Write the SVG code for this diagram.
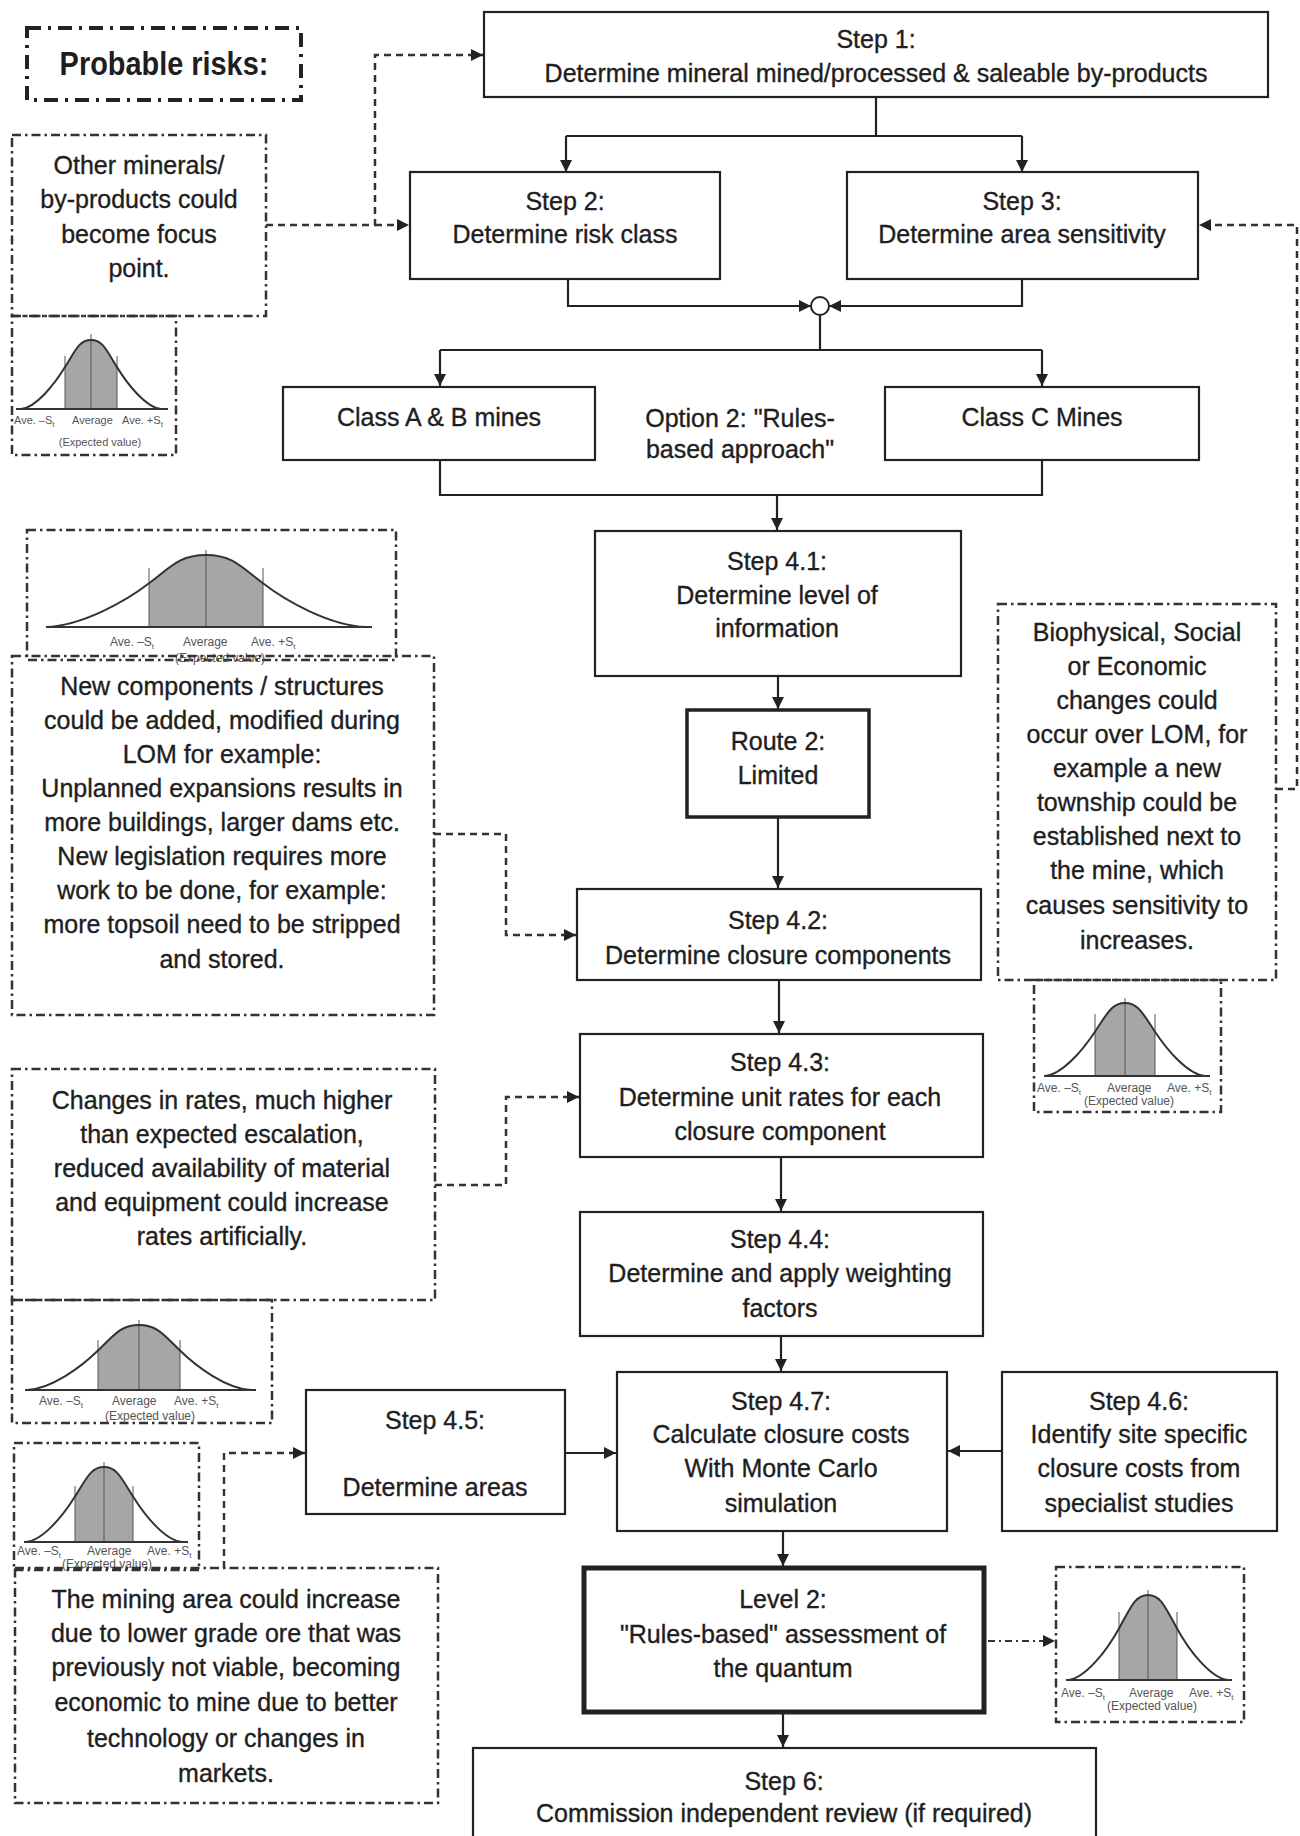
<svg xmlns="http://www.w3.org/2000/svg" width="1300" height="1836" viewBox="0 0 1300 1836">
<defs>
<marker id="ah" viewBox="0 0 10 10" refX="10" refY="5" markerWidth="12" markerHeight="12" markerUnits="userSpaceOnUse" orient="auto"><path d="M0,0 L10,5 L0,10 z" fill="#222"/></marker>
<style>
.t{font-family:"Liberation Sans",Arial,sans-serif;font-size:25px;fill:#1e1e1e;stroke:#1e1e1e;stroke-width:0.35;text-anchor:middle}
.lbl{font-family:"Liberation Sans",Arial,sans-serif;font-size:12px;fill:#555}
.sm{font-size:11px}
.ev{text-anchor:middle}
.sub{font-size:8px}
.box{fill:#fff;stroke:#222;stroke-width:2.2}
.risk{fill:none;stroke:#333;stroke-width:2.5;stroke-dasharray:9 4 2.5 4}
.dash{fill:none;stroke:#333;stroke-width:2.5;stroke-dasharray:7 5}
.conn{fill:none;stroke:#222;stroke-width:2.2}
.bell{fill:none;stroke:#333;stroke-width:2}
.thin{fill:none;stroke:#555;stroke-width:1}
.shade{fill:#a6a6a6}
</style>
</defs>
<rect width="1300" height="1836" fill="#fff"/>

<g id="connectors">
<path class="conn" d="M876,97 V136 M566,136 H1022"/>
<path class="conn" d="M566,136 V172" marker-end="url(#ah)"/>
<path class="conn" d="M1022,136 V172" marker-end="url(#ah)"/>
<path class="conn" d="M568,279 V306 H811" marker-end="url(#ah)"/>
<path class="conn" d="M1022,279 V306 H829" marker-end="url(#ah)"/>
<circle cx="820" cy="306" r="9" fill="#fff" stroke="#222" stroke-width="2"/>
<path class="conn" d="M820,315 V350 M440,350 H1042"/>
<path class="conn" d="M440,350 V386" marker-end="url(#ah)"/>
<path class="conn" d="M1042,350 V386" marker-end="url(#ah)"/>
<path class="conn" d="M440,460 V495 H1042 V460"/>
<path class="conn" d="M777,495 V530" marker-end="url(#ah)"/>
<path class="conn" d="M778,676 V709" marker-end="url(#ah)"/>
<path class="conn" d="M778,817 V888" marker-end="url(#ah)"/>
<path class="conn" d="M779,980 V1033" marker-end="url(#ah)"/>
<path class="conn" d="M781,1157 V1211" marker-end="url(#ah)"/>
<path class="conn" d="M781,1336 V1371" marker-end="url(#ah)"/>
<path class="conn" d="M783,1531 V1566" marker-end="url(#ah)"/>
<path class="conn" d="M783,1714 V1747" marker-end="url(#ah)"/>
<path class="conn" d="M565,1453 H616" marker-end="url(#ah)"/>
<path class="conn" d="M1002,1451 H948" marker-end="url(#ah)"/>
<path class="dash" d="M266,225 H375 V55 H483" marker-end="url(#ah)"/>
<path class="dash" d="M375,225 H409" marker-end="url(#ah)"/>
<path class="dash" d="M434,834 H506 V935 H576" marker-end="url(#ah)"/>
<path class="dash" d="M435,1185 H506 V1097 H579" marker-end="url(#ah)"/>
<path class="dash" d="M224,1568 V1453 H305" marker-end="url(#ah)"/>
<path class="dash" d="M1276,789 H1297 V225 H1199" marker-end="url(#ah)"/>
<path fill="none" stroke="#333" stroke-width="2" stroke-dasharray="7 4 2 4" d="M988,1641 H1055" marker-end="url(#ah)"/>
</g>

<g id="probable-risks">
<rect x="27" y="28" width="274" height="72" fill="none" stroke="#222" stroke-width="4" stroke-dasharray="14 7 3 7"/>
<text transform="translate(164,75) scale(0.85,1)" style="font-family:'Liberation Sans',Arial,sans-serif;font-size:34px;font-weight:bold;fill:#1e1e1e;text-anchor:middle">Probable risks:</text>
</g>

<g id="step1">
<rect class="box" x="484" y="12" width="784" height="85"/>
<text class="t" x="876" y="48">Step 1:</text>
<text class="t" x="876" y="82">Determine mineral mined/processed &amp; saleable by-products</text>
</g>
<g id="step2">
<rect class="box" x="410" y="172" width="310" height="107"/>
<text class="t" x="565" y="210">Step 2:</text>
<text class="t" x="565" y="243">Determine risk class</text>
</g>
<g id="step3">
<rect class="box" x="847" y="172" width="351" height="107"/>
<text class="t" x="1022" y="210">Step 3:</text>
<text class="t" x="1022" y="243">Determine area sensitivity</text>
</g>
<g id="class-ab">
<rect class="box" x="283" y="387" width="312" height="73"/>
<text class="t" x="439" y="426">Class A &amp; B mines</text>
</g>
<g id="option2">
<text class="t" x="740" y="427">Option 2: "Rules-</text>
<text class="t" x="740" y="458">based approach"</text>
</g>
<g id="class-c">
<rect class="box" x="885" y="387" width="314" height="73"/>
<text class="t" x="1042" y="426">Class C Mines</text>
</g>
<g id="step4-1">
<rect class="box" x="595" y="531" width="366" height="145"/>
<text class="t" x="777" y="570">Step 4.1:</text>
<text class="t" x="777" y="604">Determine level of</text>
<text class="t" x="777" y="637">information</text>
</g>
<g id="route2">
<rect class="box" x="687" y="710" width="182" height="107" style="stroke-width:3.5"/>
<text class="t" x="778" y="750">Route 2:</text>
<text class="t" x="778" y="784">Limited</text>
</g>
<g id="step4-2">
<rect class="box" x="577" y="889" width="404" height="91"/>
<text class="t" x="778" y="929">Step 4.2:</text>
<text class="t" x="778" y="964">Determine closure components</text>
</g>
<g id="step4-3">
<rect class="box" x="580" y="1034" width="403" height="123"/>
<text class="t" x="780" y="1071">Step 4.3:</text>
<text class="t" x="780" y="1106">Determine unit rates for each</text>
<text class="t" x="780" y="1140">closure component</text>
</g>
<g id="step4-4">
<rect class="box" x="580" y="1212" width="403" height="124"/>
<text class="t" x="780" y="1248">Step 4.4:</text>
<text class="t" x="780" y="1282">Determine and apply weighting</text>
<text class="t" x="780" y="1317">factors</text>
</g>
<g id="step4-5">
<rect class="box" x="306" y="1390" width="259" height="124"/>
<text class="t" x="435" y="1429">Step 4.5:</text>
<text class="t" x="435" y="1496">Determine areas</text>
</g>
<g id="step4-7">
<rect class="box" x="617" y="1372" width="330" height="159"/>
<text class="t" x="781" y="1410">Step 4.7:</text>
<text class="t" x="781" y="1443">Calculate closure costs</text>
<text class="t" x="781" y="1477">With Monte Carlo</text>
<text class="t" x="781" y="1512">simulation</text>
</g>
<g id="step4-6">
<rect class="box" x="1002" y="1372" width="275" height="159"/>
<text class="t" x="1139" y="1410">Step 4.6:</text>
<text class="t" x="1139" y="1443">Identify site specific</text>
<text class="t" x="1139" y="1477">closure costs from</text>
<text class="t" x="1139" y="1512">specialist studies</text>
</g>
<g id="level2">
<rect class="box" x="584" y="1568" width="400" height="144" style="stroke-width:5"/>
<text class="t" x="783" y="1608">Level 2:</text>
<text class="t" x="783" y="1643">"Rules-based" assessment of</text>
<text class="t" x="783" y="1677">the quantum</text>
</g>
<g id="step6">
<rect class="box" x="473" y="1748" width="623" height="100"/>
<text class="t" x="784" y="1790">Step 6:</text>
<text class="t" x="784" y="1822">Commission independent review (if required)</text>
</g>

<g id="risk-minerals">
<rect class="risk" x="12" y="135" width="254" height="181"/>
<text class="t" x="139" y="174">Other minerals/</text>
<text class="t" x="139" y="208">by-products could</text>
<text class="t" x="139" y="243">become focus</text>
<text class="t" x="139" y="277">point.</text>
</g>
<g id="bell-minerals">
<rect class="risk" x="12" y="316" width="164" height="139"/>
<path class="shade" d="M65,409 V367.1 C75.4,350.4 79.3,340 91,340 C102.7,340 106.6,350.4 117,367.1 V409 Z"/>
<path class="thin" d="M65,409 V356 M117,409 V356 M91,409 V334"/>
<path class="bell" d="M16,409 H168 M21,409 C36,407.6 54.6,384.2 65,367.1 C75.4,350.4 79.3,340 91,340 C102.7,340 106.6,350.4 117,367.1 C127.4,384.2 146,407.6 161,409"/>
<text class="lbl sm" x="14" y="424">Ave. –S<tspan class="sub" dy="3">t</tspan></text>
<text class="lbl sm" x="72" y="424">Average</text>
<text class="lbl sm" x="122" y="424">Ave. +S<tspan class="sub" dy="3">t</tspan></text>
<text class="lbl sm ev" x="100" y="446">(Expected value)</text>
</g>

<g id="bell-components">
<rect class="risk" x="27" y="530" width="369" height="130"/>
<path class="shade" d="M149,627 V583.3 C171.8,565.8 180.4,555 206,555 C231.6,555 240.2,565.8 263,583.3 V627 Z"/>
<path class="thin" d="M149,627 V568 M263,627 V568 M206,627 V550"/>
<path class="bell" d="M46,627 H372 M46,627 C82,625.6 126.2,601.1 149,583.3 C171.8,565.8 180.4,555 206,555 C231.6,555 240.2,565.8 263,583.3 C285.8,601.1 330,625.6 366,627"/>
<text class="lbl" x="110" y="646">Ave. –S<tspan class="sub" dy="3">t</tspan></text>
<text class="lbl" x="183" y="646">Average</text>
<text class="lbl" x="251" y="646">Ave. +S<tspan class="sub" dy="3">t</tspan></text>
<text class="lbl ev" x="220" y="662">(Expected value)</text>
</g>
<g id="risk-components">
<rect class="risk" x="12" y="656" width="422" height="359"/>
<text class="t" x="222" y="695">New components / structures</text>
<text class="t" x="222" y="729">could be added, modified during</text>
<text class="t" x="222" y="763">LOM for example:</text>
<text class="t" x="222" y="797">Unplanned expansions results in</text>
<text class="t" x="222" y="831">more buildings, larger dams etc.</text>
<text class="t" x="222" y="865">New legislation requires more</text>
<text class="t" x="222" y="899">work to be done, for example:</text>
<text class="t" x="222" y="933">more topsoil need to be stripped</text>
<text class="t" x="222" y="968">and stored.</text>
</g>

<g id="risk-rates">
<rect class="risk" x="12" y="1069" width="423" height="231"/>
<text class="t" x="222" y="1109">Changes in rates, much higher</text>
<text class="t" x="222" y="1143">than expected escalation,</text>
<text class="t" x="222" y="1177">reduced availability of material</text>
<text class="t" x="222" y="1211">and equipment could increase</text>
<text class="t" x="222" y="1245">rates artificially.</text>
</g>
<g id="bell-rates">
<rect class="risk" x="12" y="1300" width="260" height="123"/>
<path class="shade" d="M98,1390 V1350.5 C114.4,1334.8 120.6,1325 139,1325 C157.4,1325 163.6,1334.8 180,1350.5 V1390 Z"/>
<path class="thin" d="M98,1390 V1340 M180,1390 V1340 M139,1390 V1320"/>
<path class="bell" d="M25,1390 H256 M27,1390 C51.9,1388.7 81.6,1366.6 98,1350.5 C114.4,1334.8 120.6,1325 139,1325 C157.4,1325 163.6,1334.8 180,1350.5 C196.4,1366.6 226.1,1388.7 251,1390"/>
<text class="lbl" x="39" y="1405">Ave. –S<tspan class="sub" dy="3">t</tspan></text>
<text class="lbl" x="112" y="1405">Average</text>
<text class="lbl" x="174" y="1405">Ave. +S<tspan class="sub" dy="3">t</tspan></text>
<text class="lbl ev" x="150" y="1420">(Expected value)</text>
</g>

<g id="bell-areas">
<rect class="risk" x="14" y="1443" width="185" height="127"/>
<path class="shade" d="M75,1542 V1496.5 C86.6,1478.3 91,1467 104,1467 C117,1467 121.4,1478.3 133,1496.5 V1542 Z"/>
<path class="thin" d="M75,1542 V1486 M133,1542 V1486 M104,1542 V1462"/>
<path class="bell" d="M24,1542 H188 M26,1542 C43.2,1540.5 63.4,1515 75,1496.5 C86.6,1478.3 91,1467 104,1467 C117,1467 121.4,1478.3 133,1496.5 C144.6,1515 164.8,1540.5 182,1542"/>
<text class="lbl" x="17" y="1555">Ave. –S<tspan class="sub" dy="3">t</tspan></text>
<text class="lbl" x="87" y="1555">Average</text>
<text class="lbl" x="147" y="1555">Ave. +S<tspan class="sub" dy="3">t</tspan></text>
<text class="lbl ev" x="107" y="1568">(Expected value)</text>
</g>
<g id="risk-areas">
<rect class="risk" x="15" y="1568" width="423" height="235"/>
<text class="t" x="226" y="1608">The mining area could increase</text>
<text class="t" x="226" y="1642">due to lower grade ore that was</text>
<text class="t" x="226" y="1676">previously not viable, becoming</text>
<text class="t" x="226" y="1711">economic to mine due to better</text>
<text class="t" x="226" y="1747">technology or changes in</text>
<text class="t" x="226" y="1782">markets.</text>
</g>

<g id="risk-sensitivity">
<rect class="risk" x="998" y="604" width="278" height="376"/>
<text class="t" x="1137" y="641">Biophysical, Social</text>
<text class="t" x="1137" y="675">or Economic</text>
<text class="t" x="1137" y="709">changes could</text>
<text class="t" x="1137" y="743">occur over LOM, for</text>
<text class="t" x="1137" y="777">example a new</text>
<text class="t" x="1137" y="811">township could be</text>
<text class="t" x="1137" y="845">established next to</text>
<text class="t" x="1137" y="879">the mine, which</text>
<text class="t" x="1137" y="914">causes sensitivity to</text>
<text class="t" x="1137" y="949">increases.</text>
</g>
<g id="bell-sensitivity">
<rect class="risk" x="1034" y="980" width="187" height="132"/>
<path class="shade" d="M1095,1076 V1031.7 C1107,1014 1111.5,1003 1125,1003 C1138.5,1003 1143,1014 1155,1031.7 V1076 Z"/>
<path class="thin" d="M1095,1076 V1014 M1155,1076 V1014 M1125,1076 V998"/>
<path class="bell" d="M1044,1076 H1210 M1045,1076 C1062.5,1074.5 1083,1049.7 1095,1031.7 C1107,1014 1111.5,1003 1125,1003 C1138.5,1003 1143,1014 1155,1031.7 C1167,1049.7 1187.5,1074.5 1205,1076"/>
<text class="lbl" x="1037" y="1092">Ave. –S<tspan class="sub" dy="3">t</tspan></text>
<text class="lbl" x="1107" y="1092">Average</text>
<text class="lbl" x="1167" y="1092">Ave. +S<tspan class="sub" dy="3">t</tspan></text>
<text class="lbl ev" x="1129" y="1105">(Expected value)</text>
</g>

<g id="bell-quantum">
<rect class="risk" x="1056" y="1567" width="188" height="155"/>
<path class="shade" d="M1119,1680 V1628.4 C1130.6,1607.8 1135,1595 1148,1595 C1161,1595 1165.4,1607.8 1177,1628.4 V1680 Z"/>
<path class="thin" d="M1119,1680 V1612 M1177,1680 V1612 M1148,1680 V1590"/>
<path class="bell" d="M1066,1680 H1232 M1068,1680 C1085.9,1678.3 1107.4,1649.4 1119,1628.4 C1130.6,1607.8 1135,1595 1148,1595 C1161,1595 1165.4,1607.8 1177,1628.4 C1188.6,1649.4 1210.1,1678.3 1228,1680"/>
<text class="lbl" x="1061" y="1697">Ave. –S<tspan class="sub" dy="3">t</tspan></text>
<text class="lbl" x="1129" y="1697">Average</text>
<text class="lbl" x="1189" y="1697">Ave. +S<tspan class="sub" dy="3">t</tspan></text>
<text class="lbl ev" x="1152" y="1710">(Expected value)</text>
</g>
</svg>
